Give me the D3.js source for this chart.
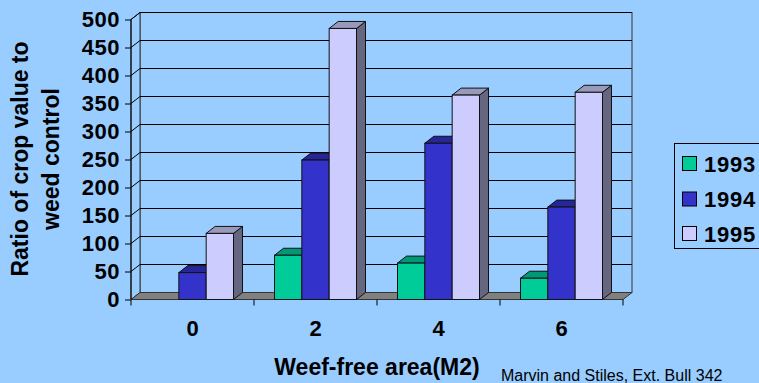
<!DOCTYPE html>
<html>
<head>
<meta charset="utf-8">
<script src="https://cdn.jsdelivr.net/npm/d3@7"></script>
<style>
  html, body { margin: 0; padding: 0; background: #99CCFF; }
  svg { display: block; }
  text { font-family: "Liberation Sans", Arial, sans-serif; }
</style>
</head>
<body>
<svg id="chart" width="759" height="383"></svg>
<script>
// ---- data ----
const categories = ["0", "2", "4", "6"];
const seriesNames = ["1993", "1994", "1995"];
const values1993 = [0, 79, 65, 38];
const values1994 = [48, 249, 279, 165];
const values1995 = [118, 484, 365, 370];
const yTicks = [0, 50, 100, 150, 200, 250, 300, 350, 400, 450, 500];
const seriesValues = [values1993, values1994, values1995];

const frontColors = ["#00CC99", "#3333CC", "#CCCCFF"];
const topColors   = ["#009977", "#262699", "#9999BB"];
const sideColors  = ["#007755", "#1A1A77", "#666680"];

const svg = d3.select("#chart");
svg.append("rect").attr("width", 759).attr("height", 383).attr("fill", "#99CCFF");

// geometry
const DX = 9, DY = 7;
const left = 131, right = 623;
const y = d3.scaleLinear().domain([0, 500]).range([299.5, 19.5]);
const xCat = d3.scaleBand().domain(categories).range([left, right]);
const bw = xCat.bandwidth();
const groupW = bw * 3 / 4.5;
const xSer = d3.scaleBand().domain(seriesNames).range([(bw - groupW) / 2, (bw + groupW) / 2]);

const g = svg.append("g");

// back wall
g.append("rect")
  .attr("x", left + DX).attr("y", y(500) - DY)
  .attr("width", right - left).attr("height", y(0) - y(500))
  .attr("fill", "#99CCFF").attr("stroke", "#333").attr("stroke-width", 1);
// side wall
g.append("path")
  .attr("d", `M${left},${y(500)}L${left + DX},${y(500) - DY}L${left + DX},${y(0) - DY}L${left},${y(0)}Z`)
  .attr("fill", "#99CCFF").attr("stroke", "#333").attr("stroke-width", 1);

// gridlines (back wall + side wall diagonals)
yTicks.forEach(t => {
  if (t === 0) return;
  g.append("line")
    .attr("x1", left + DX).attr("x2", right + DX)
    .attr("y1", y(t) - DY).attr("y2", y(t) - DY)
    .attr("stroke", "#000").attr("stroke-width", 1);
  g.append("line")
    .attr("x1", left).attr("x2", left + DX)
    .attr("y1", y(t)).attr("y2", y(t) - DY)
    .attr("stroke", "#000").attr("stroke-width", 1);
});

// floor
g.append("path")
  .attr("d", `M${left},${y(0)}L${left + DX},${y(0) - DY}L${right + DX},${y(0) - DY}L${right},${y(0)}Z`)
  .attr("fill", "#808080").attr("stroke", "#333").attr("stroke-width", 1);

// front y axis line + ticks
g.append("line").attr("x1", left).attr("x2", left).attr("y1", y(500)).attr("y2", y(0))
  .attr("stroke", "#000");
const yAxis = d3.axisLeft(y).tickValues(yTicks).tickSize(6).tickPadding(5);
const ya = svg.append("g").attr("transform", `translate(${left},0)`).call(yAxis);
ya.select(".domain").remove();
ya.selectAll("line").attr("stroke", "#000");
ya.selectAll("text")
  .attr("font-size", "22px").attr("font-weight", "bold").attr("fill", "#000")
  .attr("letter-spacing", "0.5px")
  .attr("font-family", "'Liberation Sans', Arial, sans-serif");

// category ticks & labels
const catTicks = categories.map(c => xCat(c)).concat([right]);
catTicks.forEach(x => {
  g.append("line").attr("x1", x).attr("x2", x).attr("y1", y(0)).attr("y2", y(0) + 6)
    .attr("stroke", "#000");
});
svg.append("g").selectAll("text").data(categories).join("text")
  .attr("x", d => xCat(d) + bw / 2).attr("y", 336)
  .attr("text-anchor", "middle").attr("font-size", "22px").attr("font-weight", "bold")
  .text(d => d);

// bars
categories.forEach((c, ci) => {
  seriesNames.forEach((s, si) => {
    const v = seriesValues[si][ci];
    if (!(v > 0)) return;
    const x0 = xCat(c) + xSer(s), x1 = x0 + xSer.bandwidth();
    const yb = y(0), yt = y(v);
    const bar = g.append("g");
    // side face
    bar.append("path")
      .attr("d", `M${x1},${yb}L${x1 + DX},${yb - DY}L${x1 + DX},${yt - DY}L${x1},${yt}Z`)
      .attr("fill", sideColors[si]).attr("stroke", "#111").attr("stroke-width", 1).attr("stroke-linejoin", "round");
    // top face
    bar.append("path")
      .attr("d", `M${x0},${yt}L${x0 + DX},${yt - DY}L${x1 + DX},${yt - DY}L${x1},${yt}Z`)
      .attr("fill", topColors[si]).attr("stroke", "#111").attr("stroke-width", 1).attr("stroke-linejoin", "round");
    // front face
    bar.append("rect")
      .attr("x", x0).attr("y", yt).attr("width", x1 - x0).attr("height", yb - yt)
      .attr("fill", frontColors[si]).attr("stroke", "#111").attr("stroke-width", 1);
  });
});

// axis titles
svg.append("text")
  .attr("x", (left + right) / 2).attr("y", 375)
  .attr("text-anchor", "middle").attr("font-size", "23px").attr("font-weight", "bold")
  .text("Weef-free area(M2)");
svg.append("text")
  .attr("transform", "translate(28,159) rotate(-90)")
  .attr("text-anchor", "middle").attr("font-size", "23px").attr("font-weight", "bold")
  .text("Ratio of crop value to");
svg.append("text")
  .attr("transform", "translate(59,159) rotate(-90)")
  .attr("text-anchor", "middle").attr("font-size", "23px").attr("font-weight", "bold")
  .text("weed control");

// legend
const leg = svg.append("g");
leg.append("rect").attr("x", 674.5).attr("y", 143.5).attr("width", 100).attr("height", 105)
  .attr("fill", "#99CCFF").attr("stroke", "#000").attr("stroke-width", 1);
const legY = [163.5, 199, 233.5];
seriesNames.forEach((s, i) => {
  leg.append("rect").attr("x", 682.5).attr("y", legY[i] - 7).attr("width", 14).attr("height", 14)
    .attr("fill", frontColors[i]).attr("stroke", "#000").attr("stroke-width", 1);
  leg.append("text").attr("x", 704).attr("y", legY[i] + 8)
    .attr("font-size", "22px").attr("font-weight", "bold").attr("letter-spacing", "0.8px").text(s);
});

// source note
svg.append("text").attr("x", 501).attr("y", 381)
  .attr("font-size", "16px").attr("fill", "#000")
  .text("Marvin and Stiles, Ext. Bull 342");
</script>
</body>
</html>
